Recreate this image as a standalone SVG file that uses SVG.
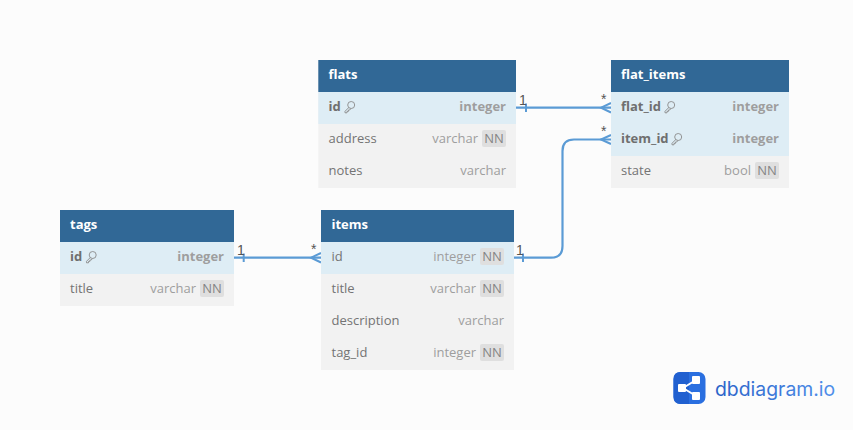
<svg xmlns="http://www.w3.org/2000/svg" width="853" height="430" viewBox="0 0 853 430">
<style>
text{font-family:"Open Sans","Noto Sans",sans-serif;font-size:13px}
.bg{fill:#f2f2f2}.hd{fill:#316896}.pk{fill:#deedf5}
.t{fill:#fff;font-weight:700}.n{fill:#747474}.nb{fill:#6f6f6f;font-weight:700}
.y{fill:#9e9e9e;text-anchor:end}.yb{fill:#9e9e9e;text-anchor:end;font-weight:700}
.nn{fill:#dfdfdf}.nt{fill:#858585;text-anchor:middle}
.c{fill:none;stroke:#5b9bd5;stroke-width:2.2}
.h{fill:none;stroke:#5b9bd5;stroke-width:2}
.l{fill:#555;font-family:"Liberation Sans",sans-serif;font-size:14px}
.k{fill:none;stroke:#8a8a8a;stroke-width:.9}
</style>
<defs>
<g id="key"><circle cx="7.200" cy="4" r="3.500"/><path d="M4.800 6.500 L1 10.300 V11.800 H3 V10.400 H4.400 V9 H5.800 L6.800 7.500"/></g>
<g id="nnb"><rect class="nn" x="0" y="0" width="24" height="17" rx="2"/><text class="nt" x="12" y="13">NN</text></g>
<linearGradient id="lg" x1="0" x2="1" y1="0" y2="0"><stop offset="0" stop-color="#2a62c8"/><stop offset="1" stop-color="#4f8fea"/></linearGradient>
</defs>
<rect width="853" height="430" fill="#fcfcfc"/>
<g id="connectors">
<path class="c" d="M516 107.700H611"/>
<path class="h" d="M526 103.500V112"/>
<path class="h" d="M611 103L601 107.700L611 112.500"/>
<path class="c" d="M514 257.700H551Q562.500 257.700 562.500 246V151Q562.500 139.500 574 139.500H611"/>
<path class="h" d="M523 253.500V262"/>
<path class="h" d="M611 135L601 139.500L611 144"/>
<path class="c" d="M234 257.700H321"/>
<path class="h" d="M243.700 253.500V262"/>
<path class="h" d="M321 253L311 257.700L321 262.500"/>
<text class="l" x="519" y="105">1</text><text class="l" x="601" y="104">*</text>
<text class="l" x="601" y="136">*</text><text class="l" x="516" y="255">1</text>
<text class="l" x="237" y="255">1</text><text class="l" x="311" y="254">*</text>
</g>
<g id="flats">
<rect class="bg" x="318.300" y="60" width="197.700" height="128"/><rect class="hd" x="318.300" y="60" width="197.700" height="32"/><rect class="pk" x="318.300" y="92" width="197.700" height="32"/>
<text class="t" x="328.500" y="79">flats</text>
<text class="nb" x="328.500" y="111">id</text><use href="#key" class="k" x="344" y="101"/><text class="yb" x="506" y="111">integer</text>
<text class="n" x="328.500" y="143">address</text><text class="y" x="478" y="143">varchar</text><use href="#nnb" x="482" y="130"/>
<text class="n" x="328.500" y="175">notes</text><text class="y" x="506" y="175">varchar</text>
</g>
<g id="flat_items">
<rect class="bg" x="611" y="60" width="178" height="128"/><rect class="hd" x="611" y="60" width="178" height="32"/><rect class="pk" x="611" y="92" width="178" height="64"/>
<text class="t" x="621" y="79">flat_items</text>
<text class="nb" x="621" y="111">flat_id</text><use href="#key" class="k" x="664" y="101"/><text class="yb" x="779" y="111">integer</text>
<text class="nb" x="621" y="143">item_id</text><use href="#key" class="k" x="671" y="133"/><text class="yb" x="779" y="143">integer</text>
<text class="n" x="621" y="175">state</text><text class="y" x="751" y="175">bool</text><use href="#nnb" x="755" y="162"/>
</g>
<g id="tags">
<rect class="bg" x="60" y="210" width="174" height="96"/><rect class="hd" x="60" y="210" width="174" height="32"/><rect class="pk" x="60" y="242" width="174" height="32"/>
<text class="t" x="70" y="229">tags</text>
<text class="nb" x="70" y="261">id</text><use href="#key" class="k" x="85.500" y="251"/><text class="yb" x="224" y="261">integer</text>
<text class="n" x="70" y="293">title</text><text class="y" x="196" y="293">varchar</text><use href="#nnb" x="200" y="280"/>
</g>
<g id="items">
<rect class="bg" x="321" y="210" width="193" height="160"/><rect class="hd" x="321" y="210" width="193" height="32"/><rect class="pk" x="321" y="242" width="193" height="32"/>
<text class="t" x="331.500" y="229">items</text>
<text class="n" x="331.500" y="261">id</text><text class="y" x="476" y="261">integer</text><use href="#nnb" x="480" y="248"/>
<text class="n" x="331.500" y="293">title</text><text class="y" x="476" y="293">varchar</text><use href="#nnb" x="480" y="280"/>
<text class="n" x="331.500" y="325">description</text><text class="y" x="504" y="325">varchar</text>
<text class="n" x="331.500" y="357">tag_id</text><text class="y" x="476" y="357">integer</text><use href="#nnb" x="480" y="344"/>
</g>
<g id="logo">
<rect x="673.500" y="372" width="32" height="32" rx="7" fill="#2a6fe0"/>
<path d="M680.500 372H689V404H680.500Q673.500 404 673.500 397V379Q673.500 372 680.500 372Z" fill="#2160d0"/>
<path d="M683 388L696 380M683 388L696 396" stroke="#fff" stroke-width="2" fill="none"/>
<rect x="678" y="384" width="8" height="8" rx="1" fill="#fff"/><rect x="692" y="376" width="8" height="8" rx="1" fill="#fff"/><rect x="692" y="392" width="8" height="8" rx="1" fill="#fff"/>
<text x="715" y="396" style="font-family:Inter,sans-serif;font-size:19.400px" fill="url(#lg)">dbdiagram.io</text>
</g>
</svg>
